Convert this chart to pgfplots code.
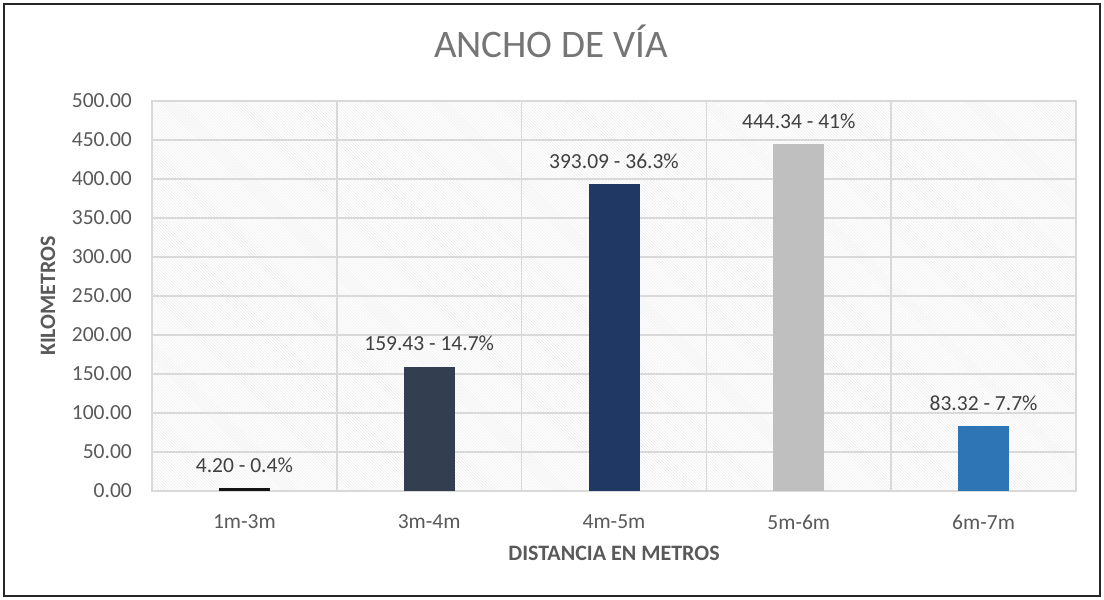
\documentclass[border=0pt]{standalone}
\usepackage{fontspec}
\setmainfont{Carlito}
\usepackage{pgfplots}
\pgfplotsset{compat=1.18}
\usetikzlibrary{patterns}
\definecolor{txt}{HTML}{595959}
\definecolor{lbl}{HTML}{404040}
\definecolor{ttl}{HTML}{757575}
\definecolor{gridc}{HTML}{D9D9D9}
\definecolor{cA}{HTML}{141414}
\definecolor{cB}{HTML}{333F50}
\definecolor{cC}{HTML}{203864}
\definecolor{cD}{HTML}{BFBFBF}
\definecolor{cE}{HTML}{2E75B6}
\begin{document}
\begin{tikzpicture}
\useasboundingbox (0,0) rectangle (1104bp,600bp);
\draw[line width=1.6bp, black!85] (4bp,4bp) rectangle (1100bp,596bp);
\begin{axis}[
  at={(152bp,109bp)}, anchor=south west,
  scale only axis, width=924bp, height=390bp,
  xmin=-0.5, xmax=4.5, ymin=0, ymax=500,
  xtick={0,1,2,3,4},
  xticklabels={1m-3m,3m-4m,4m-5m,5m-6m,6m-7m},
  minor xtick={0.5,1.5,2.5,3.5},
  ytick={0,50,...,500},
  xmajorgrids=false, xminorgrids=true, ymajorgrids=true,
  grid style={gridc, line width=1.5bp},
  minor grid style={gridc, line width=1.5bp},
  major tick length=0pt, minor tick length=0pt,
  axis line style={gridc, line width=1.5bp},
  axis background/.style={pattern=north west lines, pattern color=black!9},
  /pgf/number format/assume math mode=true,
  yticklabel={\pgfmathprintnumber[fixed, fixed zerofill, precision=2]{\tick}},
  scaled y ticks=false,
  tick label style={font=\fontsize{21.5bp}{24bp}\selectfont, text=txt},
  xticklabel style={anchor=center, yshift=-31bp, inner sep=0pt},
  yticklabel style={anchor=east, inner sep=0pt, xshift=-20bp},
  title={ANCHO DE VÍA},
  title style={at={(rel axis cs:0.5,1)}, anchor=center, yshift=54bp, xshift=-63bp, font=\fontsize{39bp}{42bp}\selectfont, text=ttl},
  xlabel={\bfseries DISTANCIA EN METROS},
  ylabel={\bfseries KILOMETROS},
  every axis x label/.style={at={(rel axis cs:0.5,0)}, anchor=center, yshift=-62bp, font=\fontsize{22bp}{24bp}\selectfont, text=txt},
  every axis y label/.style={at={(rel axis cs:0,0.5)}, anchor=center, rotate=90, yshift=104bp, font=\fontsize{22bp}{24bp}\selectfont, text=txt},
  ybar, bar width=51bp, bar shift=0pt,
  nodes near coords, point meta=explicit symbolic,
  every node near coord/.append style={font=\fontsize{21.5bp}{24bp}\selectfont, text=lbl, anchor=south, yshift=12bp},
  clip=false,
]
\addplot[fill=cA, draw=none] coordinates {(0,4.20) [4.20 - 0.4\%]};
\addplot[fill=cB, draw=none] coordinates {(1,159.43) [159.43 - 14.7\%]};
\addplot[fill=cC, draw=none] coordinates {(2,393.09) [393.09 - 36.3\%]};
\addplot[fill=cD, draw=none] coordinates {(3,444.34) [444.34 - 41\%]};
\addplot[fill=cE, draw=none] coordinates {(4,83.32) [83.32 - 7.7\%]};
\end{axis}
\end{tikzpicture}
\end{document}
